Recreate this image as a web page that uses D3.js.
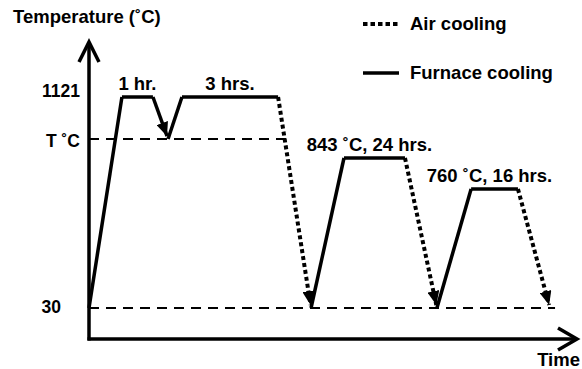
<!DOCTYPE html>
<html>
<head>
<meta charset="utf-8">
<script src="https://cdn.jsdelivr.net/npm/d3@7"></script>
<style>
  html, body { margin: 0; padding: 0; background: #fff; }
  svg text { font-family: "Liberation Sans", Arial, sans-serif; font-weight: bold; fill: #000; }
</style>
</head>
<body>
<svg id="chart" width="582" height="369"></svg>
<script>
// Heat-treatment schedule (schematic time axis, schematic temperature axis)
const T_SOLUTION = 1000; // symbolic "T °C" level

// Profile vertices: time (schematic units) and temperature (°C)
const profileTime = [0, 1.35, 2.62, 3.24, 3.81, 7.75, 9.1, 10.45, 12.95, 14.26, 15.66, 17.58, 18.89];
const profileTemp = [30, 1121, 1121, T_SOLUTION, 1121, 1121, 30, 843, 843, 30, 760, 760, 30];
// Style of each segment between consecutive vertices
const segmentCooling = ["furnace", "furnace", "furnace", "furnace", "furnace", "air",
                        "furnace", "furnace", "air", "furnace", "furnace", "air"];
const segmentArrow = [false, false, true, false, false, true, false, false, true, false, false, true];

// Reference levels on the temperature axis
const levelValues = [1121, T_SOLUTION, 30];
const levelLabels = ["1121", "T \u02DAC", "30"];
const levelLineEnd = [null, 8.1, 19.1]; // dashed guide extent (time units)

// Stage annotations
const stageLabels = ["1 hr.", "3 hrs.", "843 \u02DAC, 24 hrs.", "760 \u02DAC, 16 hrs."];
const stageStart = [1.35, 3.81, 10.45, 15.66];
const stageEnd = [2.62, 7.75, 12.95, 17.58];
const stageTemp = [1121, 1121, 843, 760];

const legendLabels = ["Air cooling", "Furnace cooling"];
const legendKeys = ["air", "furnace"];

const svg = d3.select("#chart");

const x = d3.scaleLinear().domain([0, 20]).range([89, 577]);
// Schematic (not to scale) temperature axis
const y = d3.scaleLinear()
  .domain([0, 30, 760, 843, T_SOLUTION, 1121, 1300])
  .range([339, 308, 189, 158, 139, 97, 42]);

const defs = svg.append("defs");
defs.append("marker")
  .attr("id", "tip")
  .attr("viewBox", "0 0 14 12")
  .attr("refX", 14).attr("refY", 6)
  .attr("markerWidth", 14).attr("markerHeight", 12)
  .attr("markerUnits", "userSpaceOnUse")
  .attr("orient", "auto")
  .append("path").attr("d", "M0,0 L14,6 L0,12 Z").attr("fill", "#000");

const dash = { air: "4,3", furnace: null };
const width = { air: 4, furnace: 3.5 };

// Dashed reference lines
levelValues.forEach((v, i) => {
  if (levelLineEnd[i] == null) return;
  svg.append("line")
    .attr("x1", x(0)).attr("x2", x(levelLineEnd[i]))
    .attr("y1", y(v)).attr("y2", y(v))
    .attr("stroke", "#000").attr("stroke-width", 2)
    .attr("stroke-dasharray", "10,7");
});

// Axes with open arrowheads
const axisG = svg.append("g").attr("fill", "none").attr("stroke", "#000").attr("stroke-width", 3.5);
axisG.append("path").attr("d", d3.line()([[x(0), y(0) + 1.5], [x(0), y(1300)]]));
axisG.append("path").attr("d", d3.line()([[x(0) - 10, y(1300) + 20], [x(0), y(1300)], [x(0) + 10, y(1300) + 20]]));
axisG.append("path").attr("d", d3.line()([[x(0) - 1.5, y(0)], [x(20), y(0)]]));
axisG.append("path").attr("d", d3.line()([[x(20) - 19, y(0) - 11], [x(20), y(0)], [x(20) - 19, y(0) + 11]]));

// Profile segments
const segs = d3.range(profileTime.length - 1).map(i => ({
  p0: [x(profileTime[i]), y(profileTemp[i])],
  p1: [x(profileTime[i + 1]), y(profileTemp[i + 1])],
  kind: segmentCooling[i],
  arrow: segmentArrow[i]
}));

svg.append("g").selectAll("path").data(segs).join("path")
  .attr("d", d => {
    let p1 = d.p1;
    if (d.arrow) {
      // stop the stroke short so the arrowhead tip sits on the vertex
      const dx = d.p1[0] - d.p0[0], dy = d.p1[1] - d.p0[1];
      const L = Math.hypot(dx, dy);
      p1 = [d.p1[0] - dx / L * 3, d.p1[1] - dy / L * 3];
    }
    return d3.line()([d.p0, p1]);
  })
  .attr("fill", "none").attr("stroke", "#000")
  .attr("stroke-width", d => width[d.kind])
  .attr("stroke-dasharray", d => dash[d.kind])
  .attr("marker-end", d => d.arrow ? "url(#tip)" : null);

// Axis labels
svg.append("text").attr("x", 13).attr("y", 23).attr("font-size", 18.5).text("Temperature (\u02DAC)");
svg.append("text").attr("x", 580).attr("y", 366).attr("text-anchor", "end").attr("font-size", 18.5).text("Time");

// Level labels
const levelDy = [0, 8, 5];
const levelX = [80, 80, 61];
svg.append("g").selectAll("text").data(levelValues).join("text")
  .attr("x", (d, i) => levelX[i])
  .attr("y", (d, i) => y(d) + levelDy[i])
  .attr("text-anchor", "end").attr("font-size", 17.5)
  .text((d, i) => levelLabels[i]);

// Stage labels
svg.append("g").selectAll("text").data(stageLabels).join("text")
  .attr("x", (d, i) => (x(stageStart[i]) + x(stageEnd[i])) / 2 - (i >= 2 ? 5 : 0))
  .attr("y", (d, i) => y(stageTemp[i]) - 7)
  .attr("text-anchor", "middle").attr("font-size", 18.5)
  .text(d => d);

// Legend
const lg = svg.append("g");
legendKeys.forEach((k, i) => {
  const ly = 24 + i * 49;
  lg.append("line").attr("x1", 363).attr("x2", 399).attr("y1", ly).attr("y2", ly)
    .attr("stroke", "#000").attr("stroke-width", width[k])
    .attr("stroke-dasharray", k === "air" ? "4.5,3" : null);
  lg.append("text").attr("x", 410).attr("y", ly + 6).attr("font-size", 18.5).text(legendLabels[i]);
});
</script>
</body>
</html>
